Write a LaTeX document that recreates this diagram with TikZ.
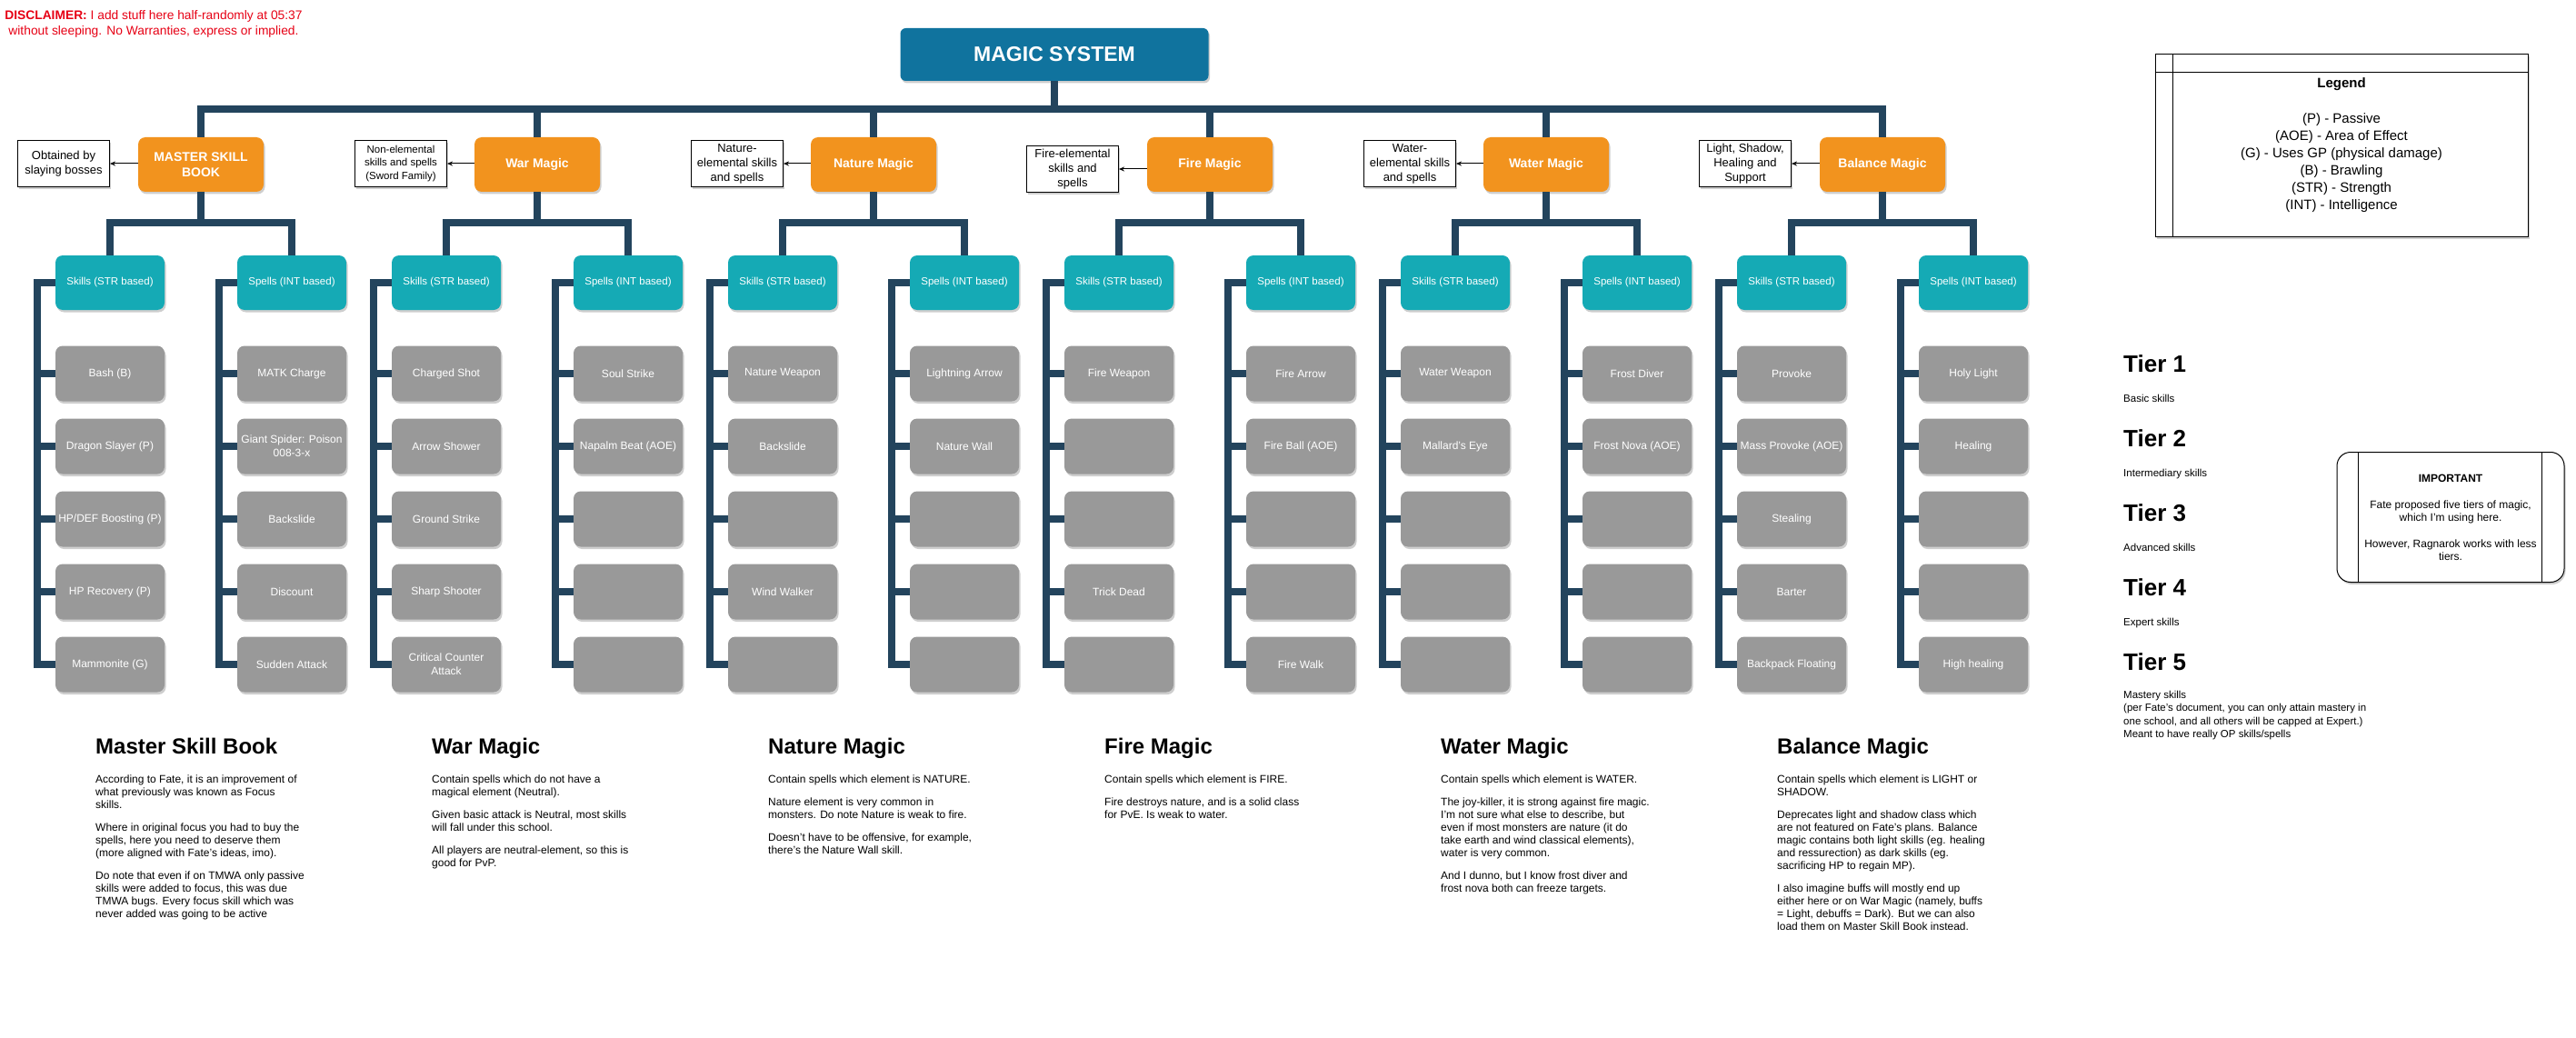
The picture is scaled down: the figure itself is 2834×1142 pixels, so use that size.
\documentclass[tikz,border=0pt]{standalone}
\usepackage{fontspec}
\setmainfont{Liberation Sans}
\usepackage{xcolor}
\usepackage{tikz}
\usetikzlibrary{arrows.meta, shadows}
\definecolor{systemcolor}{RGB}{16,115,158}
\definecolor{schoolcolor}{RGB}{242,147,30}
\definecolor{catcolor}{RGB}{21,170,181}
\definecolor{skillcolor}{RGB}{153,153,153}
\definecolor{railcolor}{RGB}{35,68,93}
\definecolor{warncolor}{RGB}{230,0,20}

\begin{document}
\begin{tikzpicture}[
    x=1pt, y=-1pt,
    boxshadow/.style={drop shadow={shadow xshift=1.5pt, shadow yshift=-2.5pt, opacity=0.35, fill=black!55}},
    system/.style={fill=systemcolor, rounded corners=6pt, minimum width=339pt, minimum height=58pt, text=white, font=\fontsize{23}{26}\selectfont\bfseries, boxshadow},
    school/.style={fill=schoolcolor, rounded corners=8pt, minimum width=138pt, minimum height=60pt, text=white, align=center, font=\fontsize{14}{17}\selectfont\bfseries, boxshadow},
    category/.style={fill=catcolor, rounded corners=8pt, minimum width=120pt, minimum height=60pt, inner sep=2pt, text=white, font=\fontsize{11.5}{14}\selectfont, boxshadow},
    skill/.style={fill=skillcolor, rounded corners=8pt, minimum width=120pt, minimum height=61pt, inner sep=2pt, text=white, align=center, font=\fontsize{12}{15}\selectfont, boxshadow},
    note/.style={draw, line width=1pt, fill=white, minimum width=101pt, minimum height=51pt, inner sep=1pt, align=center, font=\fontsize{13}{16}\selectfont, boxshadow},
    framebox/.style={draw, line width=1pt, fill=white, align=center, boxshadow},
    rail/.style={railcolor, line width=8pt},
    pointer/.style={-{Stealth[length=6pt, width=5pt]}, line width=1pt},
    heading/.style={anchor=base west, inner sep=0pt, font=\fontsize{24}{28}\selectfont\bfseries},
    body/.style={anchor=north west, inner sep=0pt, align=left, font=\fontsize{12}{14}\selectfont},
    tier/.style={anchor=base west, inner sep=0pt, font=\fontsize{26}{30}\selectfont\bfseries},
    tiernote/.style={anchor=base west, inner sep=0pt, align=left, font=\fontsize{11.5}{14.3}\selectfont}
]
    \useasboundingbox (0,0) rectangle (2834,1142);

    % Disclaimer
    \node[align=center, text=warncolor, font=\fontsize{13.8}{17}\selectfont] (disclaimer) at (169,26) {\textbf{DISCLAIMER:} I add stuff here half-randomly at 05:37\\without sleeping. No Warranties, express or implied.};

    % Root
    \node[system] (magic) at (1160,60) {MAGIC SYSTEM};
    \coordinate (hub) at (1160,120);

    % Schools
    \node[school] (sch1) at (221,181) {MASTER SKILL\\BOOK};
    \node[school] (sch2) at (591,181) {War Magic};
    \node[school] (sch3) at (961,181) {Nature Magic};
    \node[school] (sch4) at (1331,181) {Fire Magic};
    \node[school] (sch5) at (1701,181) {Water Magic};
    \node[school] (sch6) at (2071,181) {Balance Magic};

    % Side notes
    \node[note] (note1) at (70,180) {Obtained by\\slaying bosses};
    \node[note, font=\fontsize{11.5}{14.3}\selectfont] (note2) at (441,180) {Non-elemental\\skills and spells\\(Sword Family)};
    \node[note] (note3) at (811,180) {Nature-\\elemental skills\\and spells};
    \node[note] (note4) at (1180,186) {Fire-elemental\\skills and\\spells};
    \node[note] (note5) at (1551,180) {Water-\\elemental skills\\and spells};
    \node[note] (note6) at (1920,180) {Light, Shadow,\\Healing and\\Support};

    % Categories
    \node[category] (cat1) at (121,311) {Skills (STR based)};
    \node[category] (cat2) at (321,311) {Spells (INT based)};
    \node[category] (cat3) at (491,311) {Skills (STR based)};
    \node[category] (cat4) at (691,311) {Spells (INT based)};
    \node[category] (cat5) at (861,311) {Skills (STR based)};
    \node[category] (cat6) at (1061,311) {Spells (INT based)};
    \node[category] (cat7) at (1231,311) {Skills (STR based)};
    \node[category] (cat8) at (1431,311) {Spells (INT based)};
    \node[category] (cat9) at (1601,311) {Skills (STR based)};
    \node[category] (cat10) at (1801,311) {Spells (INT based)};
    \node[category] (cat11) at (1971,311) {Skills (STR based)};
    \node[category] (cat12) at (2171,311) {Spells (INT based)};

    % Skills and spells
    \foreach \t [count=\r] in {Bash (B), Dragon Slayer (P), {HP/DEF Boosting (P)}, HP Recovery (P), Mammonite (G)}
        \node[skill] (sk1-\r) at (121,{331+80*\r}) {\t};
    \foreach \t [count=\r] in {MATK Charge, {Giant Spider: Poison\\008-3-x}, Backslide, Discount, Sudden Attack}
        \node[skill] (sk2-\r) at (321,{331+80*\r}) {\t};
    \foreach \t [count=\r] in {Charged Shot, Arrow Shower, Ground Strike, Sharp Shooter, {Critical Counter\\Attack}}
        \node[skill] (sk3-\r) at (491,{331+80*\r}) {\t};
    \foreach \t [count=\r] in {Soul Strike, Napalm Beat (AOE), {}, {}, {}}
        \node[skill] (sk4-\r) at (691,{331+80*\r}) {\t};
    \foreach \t [count=\r] in {Nature Weapon, Backslide, {}, Wind Walker, {}}
        \node[skill] (sk5-\r) at (861,{331+80*\r}) {\t};
    \foreach \t [count=\r] in {Lightning Arrow, Nature Wall, {}, {}, {}}
        \node[skill] (sk6-\r) at (1061,{331+80*\r}) {\t};
    \foreach \t [count=\r] in {Fire Weapon, {}, {}, Trick Dead, {}}
        \node[skill] (sk7-\r) at (1231,{331+80*\r}) {\t};
    \foreach \t [count=\r] in {Fire Arrow, Fire Ball (AOE), {}, {}, Fire Walk}
        \node[skill] (sk8-\r) at (1431,{331+80*\r}) {\t};
    \foreach \t [count=\r] in {Water Weapon, Mallard's Eye, {}, {}, {}}
        \node[skill] (sk9-\r) at (1601,{331+80*\r}) {\t};
    \foreach \t [count=\r] in {Frost Diver, Frost Nova (AOE), {}, {}, {}}
        \node[skill] (sk10-\r) at (1801,{331+80*\r}) {\t};
    \foreach \t [count=\r] in {Provoke, Mass Provoke (AOE), Stealing, Barter, Backpack Floating}
        \node[skill] (sk11-\r) at (1971,{331+80*\r}) {\t};
    \foreach \t [count=\r] in {Holy Light, Healing, {}, {}, High healing}
        \node[skill] (sk12-\r) at (2171,{331+80*\r}) {\t};

    % Connectors
    \foreach \k [evaluate=\k as \a using int(2*\k-1), evaluate=\k as \b using int(2*\k)] in {1,...,6} {
        \draw[rail] (magic.south) -- (hub) -| (sch\k.north);
        \draw[rail] (sch\k.south) -- ++(0,34) -| (cat\a.north);
        \draw[rail] (sch\k.south) -- ++(0,34) -| (cat\b.north);
        \draw[pointer] (sch\k.west |- note\k.east) -- (note\k.east);
    }
    \foreach \c in {1,...,12}
        \foreach \r in {1,...,5}
            \draw[rail] (cat\c.west) -- ++(-20,0) |- (sk\c-\r.west);

    % Legend
    \node[framebox, minimum width=410pt, minimum height=200pt, font=\fontsize{15}{19}\selectfont] (legendbox) at (2576,160) {\textbf{Legend}\\[20pt](P) - Passive\\(AOE) - Area of Effect\\(G) - Uses GP (physical damage)\\(B) - Brawling\\(STR) - Strength\\(INT) - Intelligence};
    \draw[line width=1pt] ([yshift=-20pt]legendbox.north west) -- ([yshift=-20pt]legendbox.north east);
    \draw[line width=1pt] ([xshift=20pt]legendbox.north west) -- ([xshift=20pt]legendbox.south west);

    % Tiers
    \node[tier] (tier1) at (2336,409) {Tier 1};
    \node[tiernote] (tier1note) at (2336,442) {Basic skills};
    \node[tier] (tier2) at (2336,491) {Tier 2};
    \node[tiernote] (tier2note) at (2336,524) {Intermediary skills};
    \node[tier] (tier3) at (2336,573) {Tier 3};
    \node[tiernote] (tier3note) at (2336,606) {Advanced skills};
    \node[tier] (tier4) at (2336,655) {Tier 4};
    \node[tiernote] (tier4note) at (2336,688) {Expert skills};
    \node[tier] (tier5) at (2336,737) {Tier 5};
    \node[tiernote, anchor=north west] (tier5note) at (2336,760) {Mastery skills\\(per Fate's document, you can only attain mastery in\\one school, and all others will be capped at Expert.)\\Meant to have really OP skills/spells};

    % Important
    \node[framebox, rounded corners=15pt, minimum width=250pt, minimum height=143pt, font=\fontsize{12}{14}\selectfont] (important) at (2696,569) {\textbf{IMPORTANT}\\[15pt]Fate proposed five tiers of magic,\\which I'm using here.\\[15pt]However, Ragnarok works with less\\tiers.};
    \draw[line width=1pt] ([xshift=24pt]important.north west) -- ([xshift=24pt]important.south west);
    \draw[line width=1pt] ([xshift=-25pt]important.north east) -- ([xshift=-25pt]important.south east);

    % Descriptions
    \node[heading] (msbhead) at (105,829) {Master Skill Book};
    \node[body] (msbtext) at (105,853) {According to Fate, it is an improvement of\\what previously was known as Focus\\skills.\\[11pt]Where in original focus you had to buy the\\spells, here you need to deserve them\\(more aligned with Fate's ideas, imo).\\[11pt]Do note that even if on TMWA only passive\\skills were added to focus, this was due\\TMWA bugs. Every focus skill which was\\never added was going to be active};
    \node[heading] (warhead) at (475,829) {War Magic};
    \node[body] (wartext) at (475,853) {Contain spells which do not have a\\magical element (Neutral).\\[11pt]Given basic attack is Neutral, most skills\\will fall under this school.\\[11pt]All players are neutral-element, so this is\\good for PvP.};
    \node[heading] (naturehead) at (845,829) {Nature Magic};
    \node[body] (naturetext) at (845,853) {Contain spells which element is NATURE.\\[11pt]Nature element is very common in\\monsters. Do note Nature is weak to fire.\\[11pt]Doesn't have to be offensive, for example,\\there's the Nature Wall skill.};
    \node[heading] (firehead) at (1215,829) {Fire Magic};
    \node[body] (firetext) at (1215,853) {Contain spells which element is FIRE.\\[11pt]Fire destroys nature, and is a solid class\\for PvE. Is weak to water.};
    \node[heading] (waterhead) at (1585,829) {Water Magic};
    \node[body] (watertext) at (1585,853) {Contain spells which element is WATER.\\[11pt]The joy-killer, it is strong against fire magic.\\I'm not sure what else to describe, but\\even if most monsters are nature (it do\\take earth and wind classical elements),\\water is very common.\\[11pt]And I dunno, but I know frost diver and\\frost nova both can freeze targets.};
    \node[heading] (balancehead) at (1955,829) {Balance Magic};
    \node[body] (balancetext) at (1955,853) {Contain spells which element is LIGHT or\\SHADOW.\\[11pt]Deprecates light and shadow class which\\are not featured on Fate's plans. Balance\\magic contains both light skills (eg. healing\\and ressurection) as dark skills (eg.\\sacrificing HP to regain MP).\\[11pt]I also imagine buffs will mostly end up\\either here or on War Magic (namely, buffs\\= Light, debuffs = Dark). But we can also\\load them on Master Skill Book instead.};
\end{tikzpicture}
\end{document}
